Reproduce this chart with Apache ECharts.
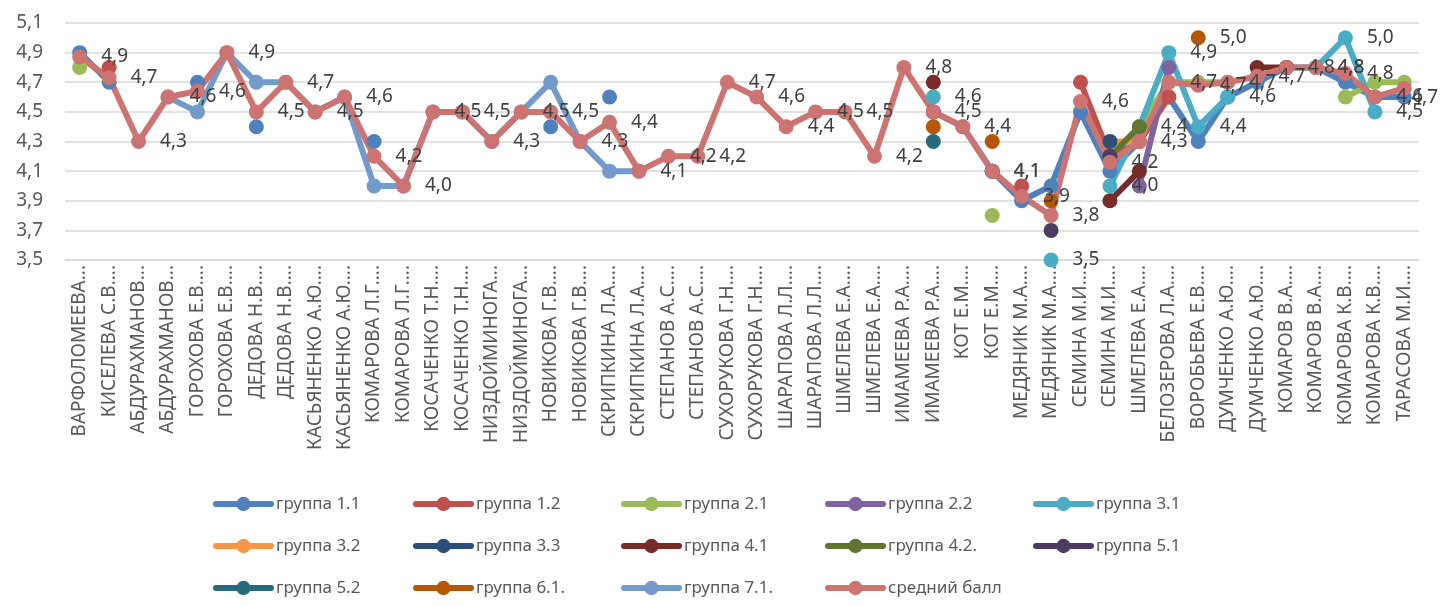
<!DOCTYPE html>
<html>
<head>
<meta charset="utf-8">
<script src="https://cdn.jsdelivr.net/npm/echarts@6/dist/echarts.min.js"></script>
<style>
  html, body { margin: 0; padding: 0; background: #fff; }
  #chart { width: 1440px; height: 606px; }
</style>
</head>
<body>
<div id="chart"></div>
<script>
var _ = null;

var categories = [
  'ВАРФОЛОМЕЕВА...', 'КИСЕЛЕВА С.В....', 'АБДУРАХМАНОВ...', 'АБДУРАХМАНОВ...',
  'ГОРОХОВА Е.В....', 'ГОРОХОВА Е.В....', 'ДЕДОВА Н.В....', 'ДЕДОВА Н.В....',
  'КАСЬЯНЕНКО А.Ю....', 'КАСЬЯНЕНКО А.Ю....', 'КОМАРОВА Л.Г....', 'КОМАРОВА Л.Г....',
  'КОСАЧЕНКО Т.Н....', 'КОСАЧЕНКО Т.Н....', 'НИЗДОЙМИНОГА...', 'НИЗДОЙМИНОГА...',
  'НОВИКОВА Г.В....', 'НОВИКОВА Г.В....', 'СКРИПКИНА Л.А....', 'СКРИПКИНА Л.А....',
  'СТЕПАНОВ А.С....', 'СТЕПАНОВ А.С....', 'СУХОРУКОВА Г.Н....', 'СУХОРУКОВА Г.Н....',
  'ШАРАПОВА Л.Л....', 'ШАРАПОВА Л.Л....', 'ШМЕЛЕВА Е.А....', 'ШМЕЛЕВА Е.А....',
  'ИМАМЕЕВА Р.А....', 'ИМАМЕЕВА Р.А....', 'КОТ Е.М....', 'КОТ Е.М....',
  'МЕДЯНИК М.А....', 'МЕДЯНИК М.А....', 'СЕМИНА М.И....', 'СЕМИНА М.И....',
  'ШМЕЛЕВА Е.А....', 'БЕЛОЗЕРОВА Л.А....', 'ВОРОБЬЕВА Е.В....', 'ДУМЧЕНКО А.Ю....',
  'ДУМЧЕНКО А.Ю....', 'КОМАРОВ В.А....', 'КОМАРОВ В.А....', 'КОМАРОВА К.В....',
  'КОМАРОВА К.В....', 'ТАРАСОВА М.И....'
];

var seriesNames = ['группа 1.1', 'группа 1.2', 'группа 2.1', 'группа 2.2', 'группа 3.1',
  'группа 3.2', 'группа 3.3', 'группа 4.1', 'группа 4.2.', 'группа 5.1',
  'группа 5.2', 'группа 6.1.', 'группа 7.1.', 'средний балл'];

var colors = ['#4F81BD', '#C0504D', '#9BBB59', '#8064A2', '#4BACC6',
  '#F79646', '#2C4D75', '#772C2A', '#5F7530', '#4D3B62',
  '#276A7C', '#B65708', '#729ACA', '#CD7371'];

// values per group, 46 points each (null = no score)
var g11 = [4.9,4.7,_,_,4.7,_,4.4,_,_,_,  4.3,_,_,_,_,_,4.4,_,4.6,_,  _,_,_,_,_,_,_,_,_,4.5,
           4.4,4.1,3.9,4.0,4.5,4.1,4.3,4.6,4.3,4.6,  4.7,4.8,4.8,4.7,4.6,4.6];
var g12 = [_,4.8,_,_,_,_,_,_,_,_,  _,_,_,_,_,_,_,_,_,_,  _,_,_,_,_,_,_,_,_,_,
           _,_,4.0,_,4.7,4.2,4.3,4.6,_,_,  _,_,_,_,_,_];
var g21 = [4.8,_,_,_,_,_,_,_,_,_,  _,_,_,_,_,_,_,_,_,_,  _,_,_,_,_,_,_,_,_,_,
           _,3.8,_,_,_,_,4.4,4.7,4.7,4.7,  _,_,_,4.6,4.7,4.7];
var g22 = [_,_,_,_,_,_,_,_,_,_,  _,_,_,_,_,_,_,_,_,_,  _,_,_,_,_,_,_,_,_,_,
           _,_,_,_,_,_,4.0,4.8,_,_,  _,_,_,_,_,_];
var g31 = [_,_,_,_,_,_,_,_,_,_,  _,_,_,_,_,_,_,_,_,_,  _,_,_,_,_,_,_,_,_,4.6,
           _,4.1,_,3.5,_,4.0,4.4,4.9,4.4,4.6,  _,_,4.8,5.0,4.5,_];
var g32 = [_,_,_,_,_,_,_,_,_,_,  _,_,_,_,_,_,_,_,_,_,  _,_,_,_,_,_,_,_,_,_,
           _,_,_,_,_,4.3,4.3,_,_,_,  _,_,_,_,_,_];
var g33 = [_,_,_,_,_,_,_,_,_,_,  _,_,_,_,_,_,_,_,_,_,  _,_,_,_,_,_,_,_,_,_,
           _,_,_,_,_,4.3,_,_,_,_,  _,_,_,_,_,_];
var g41 = [_,_,_,_,_,_,_,_,_,_,  _,_,_,_,_,_,_,_,_,_,  _,_,_,_,_,_,_,_,_,4.7,
           _,_,_,_,_,3.9,4.1,_,_,_,  4.8,4.8,_,_,_,_];
var g42 = [_,_,_,_,_,_,_,_,_,_,  _,_,_,_,_,_,_,_,_,_,  _,_,_,_,_,_,_,_,_,_,
           _,_,_,_,_,4.2,4.4,_,_,_,  _,_,_,_,_,_];
var g51 = [_,_,_,_,_,_,_,_,_,_,  _,_,_,_,_,_,_,_,_,_,  _,_,_,_,_,_,_,_,_,4.5,
           _,4.1,_,3.7,_,4.2,_,_,_,_,  _,_,_,_,_,_];
var g52 = [_,_,_,_,_,_,_,_,_,_,  _,_,_,_,_,_,_,_,_,_,  _,_,_,_,_,_,_,_,_,4.3,
           _,_,_,_,_,_,_,_,_,_,  _,_,_,_,_,_];
var g61 = [_,_,_,_,_,_,_,_,_,_,  _,_,_,_,_,_,_,_,_,_,  _,_,_,_,_,_,_,_,_,4.4,
           _,4.3,_,3.9,_,_,_,_,5.0,_,  _,_,_,_,_,_];
var g71 = [_,_,_,4.6,4.5,4.9,4.7,4.7,4.5,4.6,  4.0,4.0,4.5,4.5,4.3,4.5,4.7,4.3,4.1,4.1,
           _,_,_,_,_,_,_,_,_,_,  _,_,_,_,_,_,_,_,_,_,  _,_,_,_,_,_];
var avg = [4.87,4.73,4.3,4.6,4.64,4.9,4.5,4.7,4.5,4.6,  4.2,4.0,4.5,4.5,4.3,4.5,4.5,4.3,4.43,4.1,
           4.2,4.2,4.7,4.6,4.4,4.5,4.5,4.2,4.8,4.5,  4.4,4.1,3.93,3.8,4.57,4.16,4.3,4.7,4.68,4.7,
           4.74,4.8,4.8,4.76,4.6,4.66];

var groups = [g11, g12, g21, g22, g31, g32, g33, g41, g42, g51, g52, g61, g71, avg];
var yTickLabels = ['3,5', '3,7', '3,9', '4,1', '4,3', '4,5', '4,7', '4,9', '5,1'];
var labelledSeries = [4, 13];     // 3.1 and average carry value labels
var labelled61 = [38];            // single labelled point of 6.1.

var font = '"Noto Sans", sans-serif';
var W = 1440;
function fmt(p) {
  var v = p.value;
  return v == null ? '' : v.toFixed(1).replace('.', ',');
}

var series = groups.map(function (values, i) {
  var data = values;
  if (i === 11) {
    data = values.map(function (v, k) {
      return labelled61.indexOf(k) >= 0 ? { value: v, label: { show: true } } : v;
    });
  }
  return {
    name: seriesNames[i],
    type: 'line',
    data: data,
    symbol: 'circle',
    symbolSize: 15,
    showAllSymbol: true,
    connectNulls: false,
    lineStyle: { width: 6, color: colors[i], cap: 'round', join: 'round' },
    itemStyle: { color: colors[i] },
    label: {
      show: labelledSeries.indexOf(i) >= 0,
      position: 'right',
      distance: 14,
      formatter: fmt,
      fontSize: 19,
      fontFamily: font,
      color: '#404040'
    },
    // keep labels inside the picture like Excel does
    labelLayout: function (p) {
      if (p.labelRect.x + p.labelRect.width > W - 2) {
        return { x: W - 2 - p.labelRect.width, align: 'left' };
      }
    },
    emphasis: { disabled: true }
  };
});

// legend laid out as 5 columns x 3 rows
var colLeft = [213, 413, 621, 825, 1033];
var legends = colLeft.map(function (left, c) {
  var names = [];
  for (var r = 0; r < 3; r++) {
    if (seriesNames[r * 5 + c]) names.push(seriesNames[r * 5 + c]);
  }
  return {
    data: names,
    orient: 'vertical',
    left: left,
    top: 494,
    padding: 0,
    itemWidth: 55,
    itemHeight: 18,
    itemGap: 22,
    selectedMode: false,
    lineStyle: { width: 6, cap: 'round' },
    textStyle: { fontSize: 17, fontFamily: font, color: '#595959', lineHeight: 20 }
  };
});

var chart = echarts.init(document.getElementById('chart'), null, { renderer: 'canvas' });
chart.setOption({
  animation: false,
  color: colors,
  grid: { left: 65, right: 21, top: 23, bottom: 346, containLabel: false },
  legend: legends,
  xAxis: {
    type: 'category',
    data: categories,
    boundaryGap: true,
    axisLine: { show: true, lineStyle: { color: '#d9d9d9', width: 1.5 } },
    axisTick: { show: false },
    axisLabel: {
      interval: 0,
      rotate: 90,
      margin: 5,
      fontSize: 19,
      fontFamily: font,
      color: '#595959'
    }
  },
  yAxis: {
    type: 'value',
    min: 3.5,
    max: 5.1,
    interval: 0.1,
    axisLine: { show: false },
    axisTick: { show: false },
    axisLabel: {
      margin: 22,
      fontSize: 19,
      fontFamily: font,
      color: '#595959',
      formatter: function (v) {
        var s = v.toFixed(1).replace('.', ',');
        return yTickLabels.indexOf(s) >= 0 ? s : '';
      }
    },
    splitLine: { show: true, lineStyle: { color: ['#d9d9d9', 'rgba(0,0,0,0)'], width: 1.5 } }
  },
  series: series
});
</script>
</body>
</html>
